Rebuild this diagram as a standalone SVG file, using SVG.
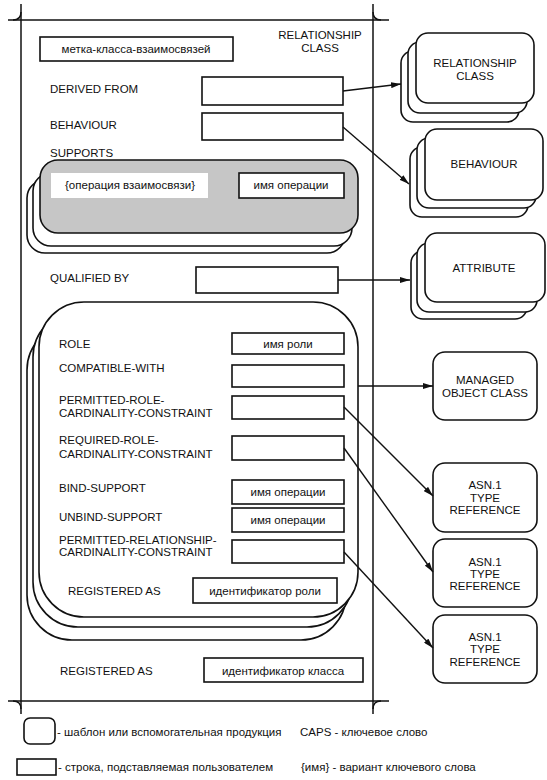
<svg xmlns="http://www.w3.org/2000/svg" width="547" height="780" viewBox="0 0 547 780">
<defs>
<style>
text{font-family:"Liberation Sans",Arial,sans-serif;font-size:11.5px;fill:#111}
.c{text-anchor:middle}
.box{fill:#fff;stroke:#111;stroke-width:1.6}
.card{fill:#fff;stroke:#111;stroke-width:1.6}
.frame{fill:none;stroke:#111;stroke-width:1.5}
.conn{fill:none;stroke:#111;stroke-width:1.4}
</style>
<marker id="ah" viewBox="0 0 10 6" refX="10" refY="3" markerWidth="10" markerHeight="6" markerUnits="userSpaceOnUse" orient="auto">
<path d="M0,0 L10,3 L0,6 Z" fill="#111"/>
</marker>
</defs>
<rect width="547" height="780" fill="#fff"/>

<g id="frame">
<line class="frame" x1="8" y1="20" x2="389" y2="20"/>
<line class="frame" x1="8" y1="701" x2="389" y2="701"/>
<line class="frame" x1="21" y1="4" x2="21" y2="714"/>
<line class="frame" x1="373" y1="4" x2="373" y2="714"/>
<path class="frame" d="M13 20 Q21 20 21 12"/>
<path class="frame" d="M373 12 Q373 20 381 20"/>
<path class="frame" d="M13 701 Q21 701 21 709"/>
<path class="frame" d="M373 709 Q373 701 381 701"/>
<text class="c" x="320" y="39">RELATIONSHIP</text>
<text class="c" x="320" y="52">CLASS</text>
</g>

<g id="label">
<rect class="box" x="40" y="37" width="193" height="24"/>
<text class="c" x="136" y="53">метка-класса-взаимосвязей</text>
</g>

<g id="derived">
<text x="50" y="93">DERIVED FROM</text>
<rect class="box" x="202" y="77" width="141" height="28"/>
</g>
<g id="behaviour">
<text x="50" y="129">BEHAVIOUR</text>
<rect class="box" x="202" y="113" width="141" height="27"/>
</g>

<g id="supports">
<text x="50" y="157">SUPPORTS</text>
<rect class="card" x="27" y="180" width="318" height="73" rx="18"/>
<rect class="card" x="33" y="173" width="319" height="73" rx="18"/>
<rect x="40" y="160" width="318" height="73" rx="18" fill="#c6c6c6" stroke="#111" stroke-width="1.6"/>
<rect x="51" y="173" width="157" height="25" fill="#fff"/>
<text class="c" x="130" y="189">{операция взаимосвязи}</text>
<rect class="box" x="239" y="173" width="105" height="25"/>
<text class="c" x="291" y="189">имя операции</text>
</g>

<g id="qualified">
<text x="50" y="282">QUALIFIED BY</text>
<rect class="box" x="196" y="267" width="142" height="26"/>
</g>

<g id="role">
<rect class="card" x="27" y="325" width="319" height="315" rx="45"/>
<rect class="card" x="33" y="312" width="319" height="315" rx="45"/>
<rect class="card" x="39" y="302" width="319" height="315" rx="45"/>
<text x="59" y="348">ROLE</text>
<rect class="box" x="232" y="333" width="112" height="21"/>
<text class="c" x="288" y="348">имя роли</text>
<text x="59" y="372">COMPATIBLE-WITH</text>
<rect class="box" x="232" y="365" width="112" height="22"/>
<text x="59" y="404">PERMITTED-ROLE-</text>
<text x="59" y="417">CARDINALITY-CONSTRAINT</text>
<rect class="box" x="232" y="396" width="112" height="23"/>
<text x="59" y="444">REQUIRED-ROLE-</text>
<text x="59" y="458">CARDINALITY-CONSTRAINT</text>
<rect class="box" x="232" y="436" width="112" height="24"/>
<text x="59" y="492">BIND-SUPPORT</text>
<rect class="box" x="232" y="480" width="112" height="24"/>
<text class="c" x="288" y="496">имя операции</text>
<text x="59" y="521">UNBIND-SUPPORT</text>
<rect class="box" x="232" y="508" width="112" height="24"/>
<text class="c" x="288" y="524">имя операции</text>
<text x="59" y="544">PERMITTED-RELATIONSHIP-</text>
<text x="59" y="556">CARDINALITY-CONSTRAINT</text>
<rect class="box" x="232" y="540" width="112" height="23"/>
<text x="68" y="595">REGISTERED AS</text>
<rect class="box" x="193" y="578" width="144" height="25"/>
<text class="c" x="265" y="595">идентификатор роли</text>
</g>

<g id="registered">
<text x="60" y="675">REGISTERED AS</text>
<rect class="box" x="204" y="658" width="159" height="24"/>
<text class="c" x="283" y="675">идентификатор класса</text>
</g>

<g id="relclass">
<rect class="card" x="401" y="51" width="118" height="71" rx="12"/>
<rect class="card" x="408" y="42" width="119" height="71" rx="12"/>
<rect class="card" x="416" y="33" width="118" height="70" rx="12"/>
<text class="c" x="475" y="67">RELATIONSHIP</text>
<text class="c" x="475" y="80">CLASS</text>
</g>

<g id="behaviourclass">
<rect class="card" x="410" y="147" width="118" height="70" rx="12"/>
<rect class="card" x="417" y="138" width="119" height="70" rx="12"/>
<rect class="card" x="425" y="129" width="118" height="71" rx="12"/>
<text class="c" x="484" y="168">BEHAVIOUR</text>
</g>

<g id="attribute">
<rect class="card" x="411" y="251" width="116" height="68" rx="12"/>
<rect class="card" x="417" y="243" width="120" height="69" rx="12"/>
<rect class="card" x="425" y="233" width="120" height="69" rx="12"/>
<text class="c" x="484" y="272">ATTRIBUTE</text>
</g>

<g id="moc">
<rect class="card" x="433" y="352" width="104" height="68" rx="12"/>
<text class="c" x="485" y="384">MANAGED</text>
<text class="c" x="485" y="397">OBJECT CLASS</text>
</g>
<g id="asn1">
<rect class="card" x="433" y="463" width="104" height="69" rx="12"/>
<text class="c" x="485" y="489">ASN.1</text>
<text class="c" x="485" y="502">TYPE</text>
<text class="c" x="485" y="514">REFERENCE</text>
</g>
<g id="asn2">
<rect class="card" x="433" y="539" width="104" height="68" rx="12"/>
<text class="c" x="485" y="566">ASN.1</text>
<text class="c" x="485" y="578">TYPE</text>
<text class="c" x="485" y="590">REFERENCE</text>
</g>
<g id="asn3">
<rect class="card" x="433" y="615" width="104" height="68" rx="12"/>
<text class="c" x="485" y="641">ASN.1</text>
<text class="c" x="485" y="653">TYPE</text>
<text class="c" x="485" y="666">REFERENCE</text>
</g>

<g id="connectors">
<line class="conn" x1="343" y1="91" x2="401" y2="84" marker-end="url(#ah)"/>
<line class="conn" x1="343" y1="127" x2="409" y2="184" marker-end="url(#ah)"/>
<line class="conn" x1="338" y1="280" x2="410" y2="280" marker-end="url(#ah)"/>
<line class="conn" x1="358" y1="386" x2="433" y2="386" marker-end="url(#ah)"/>
<line class="conn" x1="344" y1="407" x2="433" y2="496" marker-end="url(#ah)"/>
<line class="conn" x1="344" y1="448" x2="433" y2="572" marker-end="url(#ah)"/>
<line class="conn" x1="344" y1="552" x2="433" y2="648" marker-end="url(#ah)"/>
</g>

<g id="legend">
<rect class="box" x="24" y="718" width="31" height="26" rx="6"/>
<text x="57" y="736">- шаблон или вспомогательная продукция</text>
<text x="300" y="736">CAPS - ключевое слово</text>
<rect class="box" x="17" y="759" width="39" height="16"/>
<text x="58" y="771">- строка, подставляемая пользователем</text>
<text x="301" y="771">{имя} - вариант ключевого слова</text>
</g>
</svg>
